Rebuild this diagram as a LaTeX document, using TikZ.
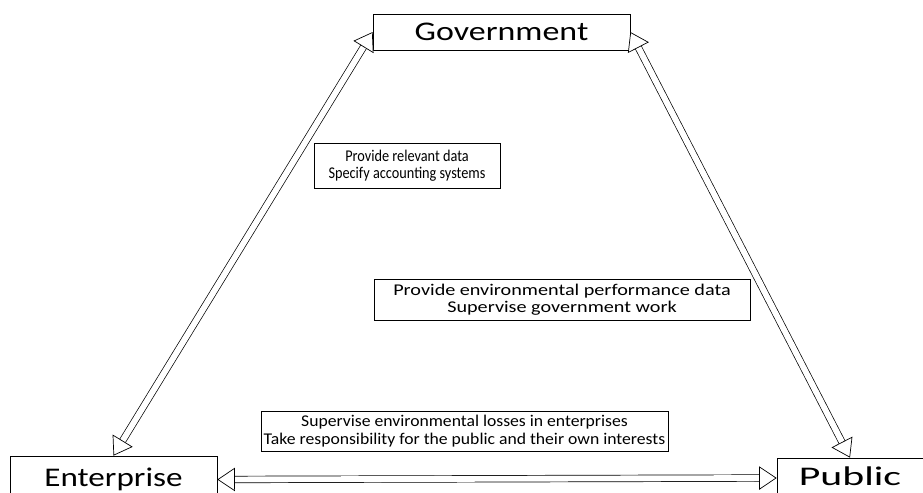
\documentclass[tikz,border=0pt]{standalone}
\usepackage{fontspec}
\setmainfont{Carlito}
% the reference stretches each text by its own amount
\newfontfamily\govfont[FakeStretch=1.26]{Carlito}
\newfontfamily\entfont[FakeStretch=1.23]{Carlito}
\newfontfamily\pubfont[FakeStretch=1.55]{Carlito}
\newfontfamily\datafont[FakeStretch=0.87]{Carlito}
\newfontfamily\perffont[FakeStretch=1.23]{Carlito}
\newfontfamily\lossfont[FakeStretch=1.076]{Carlito}
\usetikzlibrary{arrows.meta}
\tikzstyle{bigbox}=[draw,line width=0.6pt,inner sep=0pt,font=\fontsize{23}{26}\selectfont]
\tikzstyle{notebox}=[draw,line width=0.6pt,inner sep=0pt,align=center,font=\fontsize{14}{15}\selectfont]
\tikzstyle{flow}=[double,double distance=5pt,line width=0.6pt,{Triangle[open,fill=white,length=15pt,width=20pt]}-{Triangle[open,fill=white,length=15pt,width=20pt]}]

\begin{document}
\begin{tikzpicture}[x=0.03cm,y=-0.03cm]
\useasboundingbox (0,0) rectangle (923,492);
% the three parties
\node[bigbox,minimum width=257*0.03cm,minimum height=36*0.03cm] (gov) at (501.5,32) {\govfont Government};
\node[bigbox,minimum width=207*0.03cm,minimum height=47*0.03cm] (ent) at (113.5,479.5) {\entfont Enterprise};
\node[bigbox,minimum width=146*0.03cm,minimum height=40*0.03cm,text depth=4pt] (pub) at (850,478) {\pubfont Public};
% what flows between them
\node[notebox,minimum width=186*0.03cm,minimum height=45*0.03cm] (govnote) at (407,165.5) {\datafont Provide relevant data\\\datafont Specify accounting systems};
\node[notebox,minimum width=376*0.03cm,minimum height=41*0.03cm] (pubnote) at (562,299.5) {\perffont Provide environmental performance data\\\perffont Supervise government work};
\node[notebox,minimum width=407*0.03cm,minimum height=40*0.03cm] (entnote) at (464.5,431) {\lossfont Supervise environmental losses in enterprises\\\lossfont Take responsibility for the public and their own interests};
% arrows
\draw[flow] (ent.north) -- (gov.west);
\draw[flow] (pub.north) -- (gov.east);
\draw[flow] (ent.east) -- (pub.west);
\end{tikzpicture}
\end{document}
